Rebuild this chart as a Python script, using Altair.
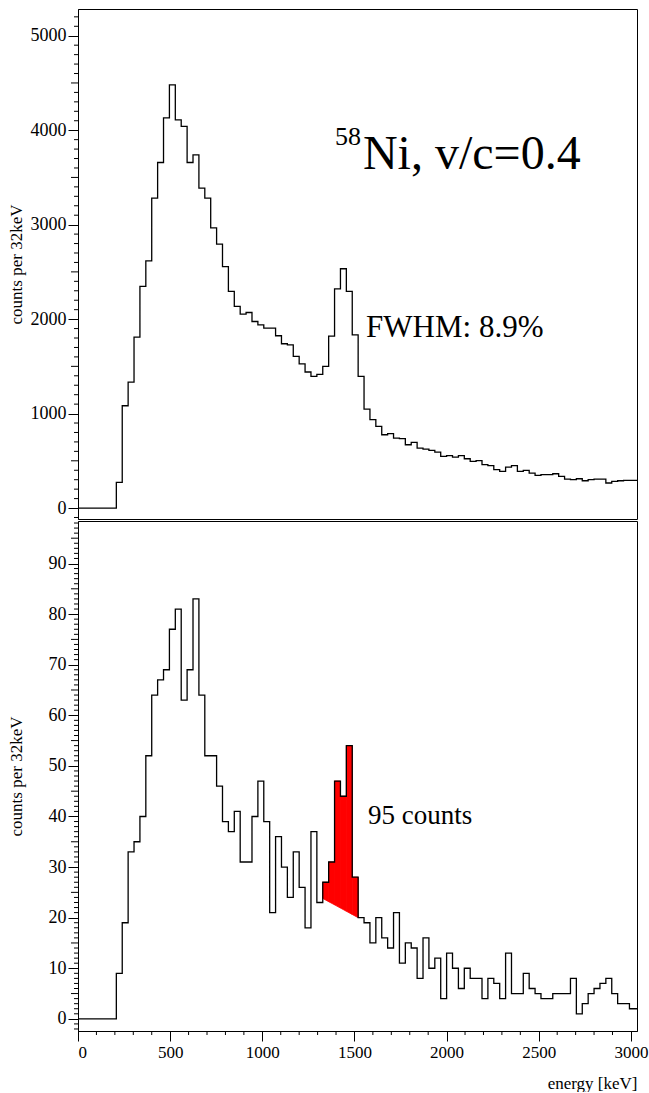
import altair as alt
import pandas as pd

FONT = "'Liberation Serif', 'Times New Roman', Times, serif"

# ---------------- data ----------------
BIN_WIDTH = 32          # keV per bin
BIN_START = 16          # lower edge of first bin (keV)

# counts per 32 keV, singles spectrum (top panel)
top_counts = [
    0, 0, 0, 0, 0, 0, 272, 1083, 1333, 1810, 2346, 2617, 3280, 3658, 4130, 4480,
    4109, 4040, 3658, 3739, 3386, 3280, 2966, 2794, 2555, 2293, 2134, 2053, 2070,
    1975, 1940, 1905, 1905, 1824, 1739, 1728, 1605, 1527, 1440, 1393, 1415, 1499,
    1820, 2321, 2533, 2293, 1834, 1393, 1048, 935, 864, 776, 787, 741, 734, 670,
    695, 635, 624, 610, 593, 547, 554, 540, 554, 522, 494, 501, 459, 448, 406, 388,
    434, 448, 388, 399, 370, 346, 353, 353, 363, 335, 307, 300, 310, 289, 300, 307,
    307, 265, 282, 289, 293, 293, 293,
]

# counts per 32 keV, gated spectrum (bottom panel)
bottom_counts = [
    0, 0, 0, 0, 0, 0, 9, 19, 33, 35, 40, 52, 64, 67, 69, 77, 81, 63, 69, 83, 64,
    52, 52, 46, 39, 37, 41, 31, 31, 40, 47, 39, 21, 36, 30, 24, 33, 26, 18, 37, 23,
    27, 31, 47, 44, 54, 28, 20, 19, 15, 20, 16, 14, 21, 11, 15, 14, 8, 16, 10, 12,
    4, 13, 10, 6, 10, 8, 8, 4, 8, 7, 4, 13, 5, 5, 9, 6, 5, 4, 4, 5, 5, 5, 8, 1, 3,
    5, 6, 7, 8, 5, 3, 3, 2, 2,
]

peak_bins = [41, 42, 43, 44, 45, 46]   # bins in the red peak region
bg_left = 23.8                         # linear background at left edge of peak region
bg_right = 20.0                        # linear background at right edge

x_domain = [0, 3033]
top_y_domain = [-116, 5283]
bottom_y_domain = [-2.4, 98.4]

x_major = [0, 500, 1000, 1500, 2000, 2500, 3000]
top_y_major = [0, 1000, 2000, 3000, 4000, 5000]
bottom_y_major = [0, 10, 20, 30, 40, 50, 60, 70, 80, 90]

title_text = "Ni, v/c=0.4"
title_sup = "58"
fwhm_text = "FWHM: 8.9%"
counts_text = "95 counts"
y_title = "counts per 32keV"
x_title = "energy [keV]"

W = 559
H = 510

# ---------------- tables ----------------
def step_table(counts):
    rows = [{"e": 0, "c": 0}]
    for k, v in enumerate(counts):
        rows.append({"e": BIN_START + BIN_WIDTH * k, "c": v})
    rows.append({"e": BIN_START + BIN_WIDTH * len(counts), "c": counts[-1]})
    return pd.DataFrame(rows)

top_df = step_table(top_counts)
bot_df = step_table(bottom_counts)

lo = BIN_START + BIN_WIDTH * peak_bins[0]
hi = BIN_START + BIN_WIDTH * (peak_bins[-1] + 1)
def bg(e):
    return bg_left + (bg_right - bg_left) * (e - lo) / (hi - lo)

red_rows = []
for k in peak_bins:
    L = BIN_START + BIN_WIDTH * k
    R = L + BIN_WIDTH
    red_rows.append({"e": L, "c": bottom_counts[k], "b": bg(L), "bin": k})
    red_rows.append({"e": R, "c": bottom_counts[k], "b": bg(R), "bin": k})
red_df = pd.DataFrame(red_rows)

# minor / medium ticks
top_minor = pd.DataFrame({"c": [v for v in range(-100, 5201, 100) if v % 500 != 0]})
top_medium = pd.DataFrame({"c": [v for v in range(500, 5201, 1000)]})
bot_minor = pd.DataFrame({"c": [v for v in range(-2, 99) if v % 5 != 0]})
bot_medium = pd.DataFrame({"c": [v for v in range(5, 99, 10)]})
x_minor = pd.DataFrame({"e": [v for v in range(100, 3001, 100) if v % 500 != 0]})

# ---------------- encodings ----------------
ax_common = dict(grid=False, domainColor="black", tickColor="black",
                 labelColor="black", titleColor="black", labelFont=FONT,
                 titleFont=FONT, titleFontWeight="normal", domainWidth=1,
                 tickWidth=1, format="d")

def y_enc(domain, values):
    return alt.Y("c:Q", scale=alt.Scale(domain=domain, nice=False, zero=False),
                 axis=alt.Axis(values=values, tickSize=10, labelFontSize=18,
                               labelPadding=2, title=y_title, titleFontSize=17,
                               titleX=-62, titleBaseline="middle", **ax_common))

x_scale = alt.Scale(domain=x_domain, nice=False, zero=False)
x_top = alt.X("e:Q", scale=x_scale, axis=None)
x_bot = alt.X("e:Q", scale=x_scale,
              axis=alt.Axis(values=x_major, tickSize=10, labelFontSize=17,
                            labelPadding=3, title=x_title, titleFontSize=17,
                            titleAnchor="end", titleAlign="right",
                            titleY=57, titleBaseline="alphabetic", **ax_common))

yt = y_enc(top_y_domain, top_y_major)
yb = y_enc(bottom_y_domain, bottom_y_major)

def yticks(df, enc, length):
    return alt.Chart(df).mark_rule(color="black", strokeWidth=1).encode(
        y=enc, x=alt.value(-length), x2=alt.value(0))

# ---------------- top panel ----------------
top_line = alt.Chart(top_df).mark_line(
    interpolate="step-after", color="black", strokeWidth=1.3, clip=True
).encode(x=x_top, y=yt)

ann_top = pd.DataFrame({
    "e": [1394, 1546, 1563], "c": [3844, 3586, 1812],
    "t": [title_sup, title_text, fwhm_text], "fs": [26, 48, 31],
})
top_text = alt.Chart(ann_top).mark_text(
    align="left", baseline="alphabetic", font=FONT, color="black"
).encode(x=x_top, y=yt, text="t:N", size=alt.Size("fs:Q", scale=None, legend=None))

top_panel = alt.layer(
    yticks(top_minor, yt, 4), yticks(top_medium, yt, 7), top_line, top_text
).properties(width=W, height=H)

# ---------------- bottom panel ----------------
red = alt.Chart(red_df).mark_area(
    color="red", stroke="red", strokeWidth=0.8, opacity=1, clip=True
).encode(x=x_bot, y=yb, y2="b:Q", detail="bin:N")

bot_line = alt.Chart(bot_df).mark_line(
    interpolate="step-after", color="black", strokeWidth=1.3, clip=True
).encode(x=x_bot, y=yb)

ann_bot = pd.DataFrame({"e": [1573], "c": [38.6], "t": [counts_text]})
bot_text = alt.Chart(ann_bot).mark_text(
    align="left", baseline="alphabetic", font=FONT, fontSize=27, color="black"
).encode(x=x_bot, y=yb, text="t:N")

xticks = alt.Chart(x_minor).mark_rule(color="black", strokeWidth=1).encode(
    x=x_bot, y=alt.value(H), y2=alt.value(H + 4))

bottom_panel = alt.layer(
    yticks(bot_minor, yb, 4), yticks(bot_medium, yb, 7), xticks, red, bot_line, bot_text
).properties(width=W, height=H)

chart = alt.vconcat(top_panel, bottom_panel, spacing=0).properties(
    padding={"left": 6, "top": 8, "right": 0, "bottom": 0},
    background="white",
).configure_view(stroke="black", strokeWidth=1)

chart.save("out.html", embed_options={"renderer": "svg", "actions": False})
